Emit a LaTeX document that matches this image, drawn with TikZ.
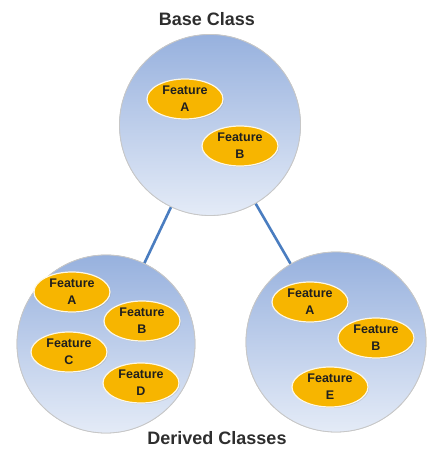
\documentclass[tikz,border=0pt]{standalone}
\usepackage{fontspec}
\setmainfont{Liberation Sans}
\usetikzlibrary{shapes.geometric,shadows}
\definecolor{circtop}{HTML}{97B1DE}
\definecolor{circbot}{HTML}{E4EBF7}
\definecolor{featfill}{HTML}{F7B500}
\definecolor{linkblue}{HTML}{4A7DC0}
\definecolor{titlegray}{HTML}{2E2E2E}
\tikzset{
  classcircle/.style={circle, inner sep=0pt, top color=circtop, bottom color=circbot,
    draw=black!22, line width=0.8pt},
  feature/.style={ellipse, inner sep=0pt, minimum width=76pt, minimum height=40pt,
    fill=featfill, draw=white!90!featfill, line width=1.2pt, align=center,
    text=black!88, font=\fontsize{12.5}{17}\selectfont\bfseries,
    drop shadow={opacity=0.25, shadow xshift=1pt, shadow yshift=-1pt}},
  title/.style={text=titlegray, font=\fontsize{18}{20}\selectfont\bfseries},
  link/.style={draw=linkblue, line width=2.6pt}
}
\begin{document}
\begin{tikzpicture}[x=1pt,y=1pt]
\useasboundingbox (0,0) rectangle (429,-449);
% titles
\node[title] (tbase) at (207,-19) {Base Class};
\node[title] (tderived) at (217,-438) {Derived Classes};
% circles
\node[classcircle, minimum size=181pt] (base) at (210,-125) {};
\node[classcircle, minimum size=178pt] (left) at (106,-344) {};
\node[classcircle, minimum size=180pt] (right) at (336,-342) {};
% connectors
\draw[link] (base) -- (left);
\draw[link] (base) -- (right);
% redraw circles over line ends
\node[classcircle, minimum size=181pt] at (base) {};
\node[classcircle, minimum size=178pt] at (left) {};
\node[classcircle, minimum size=180pt] at (right) {};
% base features
\node[feature] (bA) at (185,-99) {Feature\\A};
\node[feature] (bB) at (240,-146) {Feature\\B};
% left features
\node[feature] (lA) at (72,-292) {Feature\\A};
\node[feature] (lB) at (142,-321) {Feature\\B};
\node[feature] (lC) at (69,-352) {Feature\\C};
\node[feature] (lD) at (141,-383) {Feature\\D};
% right features
\node[feature] (rA) at (310,-302) {Feature\\A};
\node[feature] (rB) at (376,-338) {Feature\\B};
\node[feature] (rE) at (330,-387) {Feature\\E};
\end{tikzpicture}
\end{document}
